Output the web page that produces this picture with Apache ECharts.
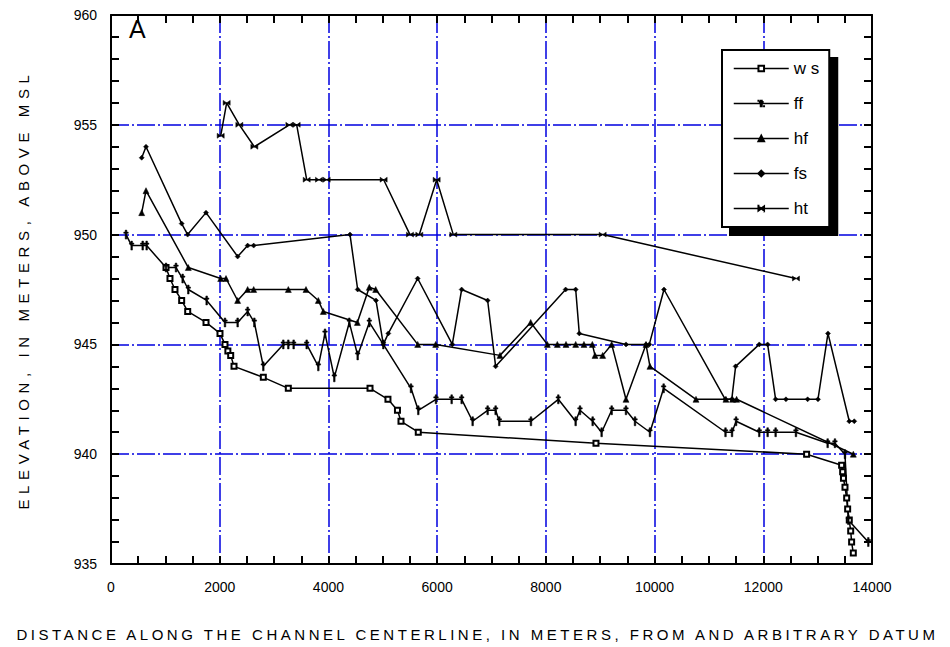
<!DOCTYPE html>
<html>
<head>
<meta charset="utf-8">
<script src="https://cdn.jsdelivr.net/npm/echarts@6/dist/echarts.min.js"></script>
<style>html,body{margin:0;padding:0;background:#fff}#c{width:950px;height:647px}</style>
</head>
<body>
<div id="c"></div>
<script>
// ---- data ----
const xTicks = [0, 2000, 4000, 6000, 8000, 10000, 12000, 14000];
const yTicks = [935, 940, 945, 950, 955, 960];
const seriesNames = ['w s', 'ff', 'hf', 'fs', 'ht'];

const wsX = [1012, 1085, 1177, 1300, 1411, 1748, 2005, 2097, 2150, 2202, 2263, 2802, 3262, 4765, 5095, 5270, 5335, 5653, 8922, 12797, 13441, 13460, 13475, 13503, 13534, 13552, 13582, 13608, 13625, 13656];
const wsY = [948.5, 948, 947.5, 947, 946.5, 946, 945.5, 945, 944.7, 944.5, 944, 943.5, 943, 943, 942.5, 942, 941.5, 941, 940.5, 940, 939.5, 939.2, 938.9, 938.5, 938, 937.5, 937, 936.5, 936, 935.5];

const ffX = [276, 380, 583, 656, 1012, 1196, 1318, 1422, 1760, 2097, 2330, 2514, 2637, 2802, 3170, 3262, 3360, 3600, 3814, 3937, 4108, 4384, 4538, 4752, 5010, 5519, 5653, 5979, 6267, 6451, 6653, 6929, 7076, 7143, 7726, 8229, 8548, 8628, 8861, 9026, 9211, 9474, 9640, 9915, 10167, 11305, 11425, 11500, 11926, 12080, 12227, 12601, 13184, 13318, 13503, 13564, 13932];
const ffY = [950, 949.5, 949.5, 949.5, 948.5, 948.5, 948, 947.5, 947, 946, 946, 946.5, 946, 944, 945, 945, 945, 945, 944, 945.5, 943.5, 946, 944.5, 946, 945, 943, 942, 942.5, 942.5, 942.5, 941.5, 942, 942, 941.5, 941.5, 942.5, 941.5, 942, 941.5, 941, 942, 942, 941.5, 941, 943, 941, 941, 941.5, 941, 941, 941, 941, 940.5, 940.5, 940, 937, 936];

const hfX = [565, 644, 1422, 2018, 2116, 2330, 2514, 2625, 3262, 3587, 3814, 3906, 4532, 4752, 4869, 5642, 5973, 7156, 7721, 8027, 8211, 8371, 8549, 8701, 8855, 8904, 9045, 9211, 9474, 9842, 9915, 10762, 11313, 11435, 11509, 13656];
const hfY = [951, 952, 948.5, 948, 948, 947, 947.5, 947.5, 947.5, 947.5, 947, 946.5, 946, 947.6, 947.5, 945, 945, 944.5, 946, 945, 945, 945, 945, 945, 945, 944.5, 944.5, 945, 942.5, 945, 944, 942.5, 942.5, 942.5, 942.5, 940];

const fsX = [565, 644, 1300, 1410, 1748, 2330, 2514, 2625, 4397, 4538, 4875, 5010, 5102, 5642, 6279, 6451, 6929, 7076, 8364, 8549, 8615, 9474, 9842, 9903, 10173, 11300, 11420, 11491, 11926, 12080, 12227, 12417, 12816, 13006, 13190, 13582, 13674];
const fsY = [953.5, 954, 950.5, 950, 951, 949, 949.5, 949.5, 950, 947.5, 947, 945, 945.5, 948, 945, 947.5, 947, 944, 947.5, 947.5, 945.5, 945, 945, 945, 947.5, 942.5, 942.5, 944, 945, 945, 942.5, 942.5, 942.5, 942.5, 945.5, 941.5, 941.5];

const htX = [2018, 2128, 2361, 2637, 3281, 3416, 3600, 3826, 3968, 5016, 5500, 5672, 5991, 6297, 9045, 12601];
const htY = [954.5, 956, 955, 954, 955, 955, 952.5, 952.5, 952.5, 952.5, 950, 950, 952.5, 950, 950, 948];

const xName = 'DISTANCE ALONG THE CHANNEL CENTERLINE, IN METERS, FROM AND ARBITRARY DATUM';
const yName = 'ELEVATION, IN METERS, ABOVE MSL';
const panelLabel = 'A';

// ---- build ----
const zip = (xs, ys) => xs.map((x, i) => [x, ys[i]]);
const FONT = '"Liberation Sans", Arial, sans-serif';
// tiny corner dots keep a square bounding box so the legend icon is not stretched
const PAD = 'M0,0h0.01v0.01h-0.01z M10,10h-0.01v-0.01h0.01z ';
const symbols = {
  'w s': {symbol: 'emptyRect', symbolSize: 5},
  'ff': {symbol: 'path://' + PAD + 'M4.1,0h1.8v10h-1.8z M2.5,2.2h5v1.4h-5z', symbolSize: 9},
  'hf': {symbol: 'triangle', symbolSize: 6},
  'fs': {symbol: 'diamond', symbolSize: 5},
  'ht': {symbol: 'path://' + PAD + 'M0,1.5L10,8.5L10,1.5L0,8.5Z', symbolSize: 7}
};
const dataSets = [zip(wsX, wsY), zip(ffX, ffY), zip(hfX, hfY), zip(fsX, fsY), zip(htX, htY)];

const series = seriesNames.map((name, i) => ({
  name: name,
  type: 'line',
  data: dataSets[i],
  symbol: symbols[name].symbol,
  symbolSize: symbols[name].symbolSize,
  showAllSymbol: true,
  lineStyle: {color: '#000', width: 1.5},
  itemStyle: {color: '#000', borderColor: '#000', borderWidth: name === 'w s' ? 1.5 : 0.5},
  animation: false,
  z: 5
}));

const gridDash = {color: '#0000e0', width: 1.5, type: [18, 3, 2, 3]};
const axisLineStyle = {color: '#000', width: 2};
const tickStyle = {color: '#000', width: 2};

const dom = document.getElementById('c');
const chart = echarts.init(dom, null, {renderer: 'svg'});
chart.setOption({
  backgroundColor: '#fff',
  animation: false,
  title: {text: panelLabel, left: 124, top: 11, textStyle: {fontFamily: FONT, fontSize: 25, fontWeight: 'normal', color: '#000'}},
  grid: {left: 111, right: 78, top: 15, bottom: 80},
  legend: {
    data: seriesNames,
    orient: 'vertical',
    left: 722, top: 50,
    padding: [10, 10, 10, 11],
    itemGap: 18, itemWidth: 55, itemHeight: 7,
    backgroundColor: '#fff', borderColor: '#000', borderWidth: 2,
    shadowColor: '#000', shadowOffsetX: 8, shadowOffsetY: 8, shadowBlur: 0.01,
    textStyle: {fontFamily: FONT, fontSize: 17, color: '#000'},
    itemStyle: {color: '#000'},
    lineStyle: {color: '#000', width: 1.5}
  },
  xAxis: [{
    type: 'value', min: 0, max: 14000, interval: 2000,
    name: xName, nameLocation: 'middle', nameGap: 63,
    nameTextStyle: {fontFamily: FONT, fontSize: 15, color: '#000'},
    axisLine: {show: true, lineStyle: axisLineStyle},
    axisTick: {show: true, inside: true, length: 8, lineStyle: tickStyle},
    minorTick: {show: true, splitNumber: 4, length: 8, lineStyle: tickStyle},
    axisLabel: {margin: 16, fontFamily: FONT, fontSize: 14, color: '#000', formatter: v => String(v)},
    splitLine: {show: true, lineStyle: gridDash}
  }, {
    type: 'value', position: 'top', min: 0, max: 14000, interval: 2000,
    axisLine: {show: true, onZero: false, lineStyle: axisLineStyle},
    axisTick: {show: true, inside: true, length: 8, lineStyle: tickStyle},
    minorTick: {show: true, splitNumber: 4, length: 8, lineStyle: tickStyle},
    axisLabel: {show: false}, splitLine: {show: false}
  }],
  yAxis: [{
    type: 'value', min: 935, max: 960, interval: 5,
    name: yName, nameLocation: 'middle', nameGap: 80, nameRotate: 90,
    nameTextStyle: {fontFamily: FONT, fontSize: 15, color: '#000'},
    axisLine: {show: true, lineStyle: axisLineStyle},
    axisTick: {show: true, inside: true, length: 8, lineStyle: tickStyle},
    minorTick: {show: true, splitNumber: 5, length: 8, lineStyle: tickStyle},
    axisLabel: {margin: 14, fontFamily: FONT, fontSize: 14, color: '#000', formatter: v => String(v)},
    splitLine: {show: true, lineStyle: gridDash}
  }, {
    type: 'value', position: 'right', min: 935, max: 960, interval: 5,
    axisLine: {show: true, onZero: false, lineStyle: axisLineStyle},
    axisTick: {show: true, inside: true, length: 8, lineStyle: tickStyle},
    minorTick: {show: true, splitNumber: 5, length: 8, lineStyle: tickStyle},
    axisLabel: {show: false}, splitLine: {show: false}
  }],
  series: series
});

// the reference sets its axis titles with wide letter spacing; widen them to a similar span
function spreadTitles() {
  const targets = {};
  targets[xName] = {width: 922, dx: -14};
  targets[yName] = {width: 440, dx: 0};
  dom.querySelectorAll('text').forEach(t => {
    const want = targets[t.textContent];
    if (!want || t.getAttribute('data-spread')) return;
    const natural = t.getComputedTextLength();
    const s = (want.width - natural) / t.textContent.length;
    if (s > 0) t.style.letterSpacing = s.toFixed(2) + 'px';
    if (want.dx) t.setAttribute('x', (parseFloat(t.getAttribute('x') || '0') + want.dx).toFixed(1));
    t.setAttribute('data-spread', '1');
  });
}
spreadTitles();
chart.on('finished', spreadTitles);
</script>
</body>
</html>
